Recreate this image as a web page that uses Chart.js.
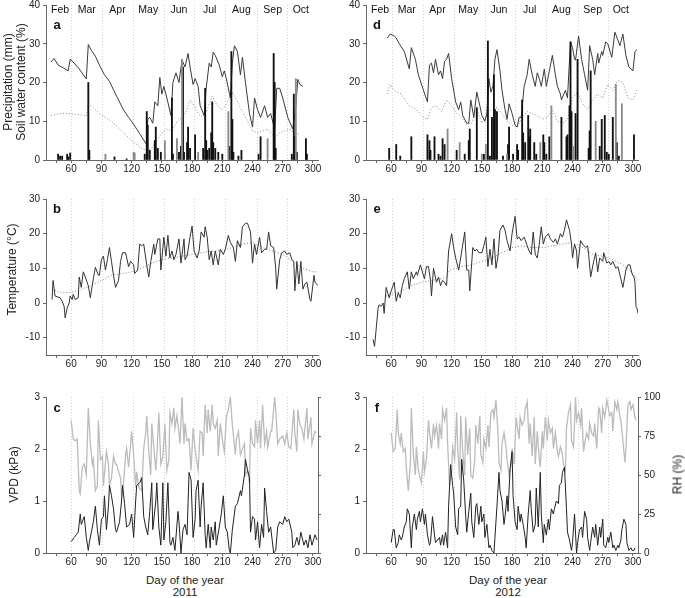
<!DOCTYPE html>
<html>
<head>
<meta charset="utf-8">
<script src="https://cdn.jsdelivr.net/npm/chart.js@4.4.0/dist/chart.umd.min.js"></script>
<style>
body { margin: 0; background: #fff; }
#page { position: relative; width: 685px; height: 598px; overflow: hidden; font-family: 'Liberation Sans', Arial, sans-serif; color: #222; }
canvas { position: absolute; }
.vt { position: absolute; width: 240px; text-align: center; transform: rotate(-90deg); font-size: 12px; line-height: 13px; }
.ht { position: absolute; width: 160px; text-align: center; font-size: 11.5px; line-height: 12px; }
</style>
</head>
<body>
<div id="page">
  <canvas id="pa" width="340" height="178" style="left:0;top:0"></canvas>
  <canvas id="pd" width="345" height="178" style="left:340px;top:0"></canvas>
  <canvas id="pb" width="340" height="195" style="left:0;top:180px"></canvas>
  <canvas id="pe" width="345" height="195" style="left:340px;top:180px"></canvas>
  <canvas id="pc" width="340" height="190" style="left:0;top:380px"></canvas>
  <canvas id="pf" width="345" height="190" style="left:340px;top:380px"></canvas>

  <div class="vt" style="left:-105px;top:69px;height:26px">Precipitation (mm)<br>Soil water content (%)</div>
  <div class="vt" style="left:-108px;top:263px">Temperature (°C)</div>
  <div class="vt" style="left:-106px;top:468px">VPD (kPa)</div>
  <div class="vt" style="left:558px;top:468px">RH (%)</div>
  <div class="ht" style="left:105px;top:574px">Day of the year<br>2011</div>
  <div class="ht" style="left:428px;top:574px">Day of the year<br>2012</div>
</div>
<script>
// x axis: day of the year
const xTickDays = [45, 60, 75, 90, 105, 120, 135, 150, 165, 180, 195, 210, 225, 240, 255, 270, 285, 300];
const monthStarts2011 = [60, 91, 121, 152, 182, 213, 244, 274];
const monthStarts2012 = [61, 92, 122, 153, 183, 214, 245, 275];
const monthNames = ['Feb', 'Mar', 'Apr', 'May', 'Jun', 'Jul', 'Aug', 'Sep', 'Oct'];
const monthLabelDays = [49, 75.5, 106, 136.5, 167, 197.5, 229, 260, 288];

// soil water content (%), [day, value]
const swc2011 = [[40,25.3],[43,26.2],[47,24.5],[52,23.8],[57,23],[59,26],[63,25],[68,23.5],[72,22],[75,20.9],[77,29.8],[80,28.3],[84,26.8],[88,24.5],[93,22],[98,20.3],[105,16.5],[112,12.9],[117,11],[122,9.2],[128,6.8],[135,3.9],[136,10.5],[138,11],[141,9.5],[143,15],[146,14],[148,21.3],[150,17],[152,19],[155,16],[159,11.5],[161,20],[164,22.5],[167,20],[170,25.8],[173,24],[176,27.5],[178,24],[181,19.5],[183,21],[186,19],[188,14],[192,11.5],[194,18.5],[197,25],[199,24],[201,27.8],[203,27],[207,24.5],[210,21.5],[212,23],[214,21],[218,16],[220,25],[222,29.5],[225,28],[228,22],[230,26.5],[233,20],[237,12],[240,8.5],[242,16],[245,13],[248,11],[252,14],[255,11],[258,12],[262,8],[264,18.5],[267,18.5],[270,16],[275,11],[280,8],[283,14],[285,20.8],[287,19.5],[290,19]];
const swcB2011 = [[40,11.5],[45,11.8],[50,12],[55,12],[60,11.9],[65,11.8],[70,11.6],[75,11.3],[77,14.5],[82,13.5],[88,12],[95,10.8],[100,10],[106,8.5],[112,7],[118,5.5],[125,4],[130,3],[135,2.5],[140,3],[145,5],[150,7],[155,8],[160,7.5],[165,10],[170,11],[175,13],[178,15.5],[182,14],[186,12],[190,11],[195,13],[200,16.5],[205,14],[210,13],[215,15],[220,17.5],[225,15],[230,12.5],[235,10],[240,7.5],[245,7],[250,7.5],[255,8],[260,6.5],[263,6],[267,7],[272,7.5],[277,8],[282,7],[287,6.5]];
const swc2012 = [[56,31.5],[59,32.5],[63,32],[65,31.5],[68,30],[73,28],[78,23.5],[80,29],[84,26],[87,22],[92,18],[96,15],[98,24.5],[100,25],[102,22.5],[104,26],[107,22],[109,23],[111,21],[113,25.5],[115,26],[117,27.5],[120,21],[124,15],[127,13],[129,15],[131,11.5],[135,9.5],[137,9.5],[139,15.5],[142,11],[145,17.5],[148,14],[150,11.5],[153,10],[155,12],[157,21],[159,17.5],[161,19],[163,26],[165,28.5],[168,23],[170,18],[173,13],[175,10.5],[177,14.5],[180,12],[183,9],[185,8.5],[187,11],[189,11],[192,19],[195,22],[197,26],[200,22],[203,19],[205,22.5],[207,21],[209,19],[212,23.5],[214,19],[217,23],[220,27],[223,22],[225,19],[228,17],[229,15.5],[233,18],[235,16],[238,30.5],[240,29],[242,26],[243,25.8],[246,32],[249,26],[252,22],[255,18],[257,29.5],[260,26],[262,22],[265,27.5],[266,25],[269,28],[270,27],[273,30.5],[275,30],[279,26.5],[282,33],[285,31],[287,29.5],[290,32.5],[293,27],[296,24],[300,23],[302,28],[304,28.5]];
const swcB2012 = [[56,17],[59,19.5],[63,18],[70,17],[78,14],[85,13],[92,11],[96,10.5],[100,13.5],[105,14],[110,12.5],[115,15.5],[120,14],[125,12],[130,11],[135,9],[140,9.5],[145,13],[150,9.5],[155,12],[160,13],[165,13.5],[170,12],[175,10],[180,9],[185,8.5],[190,11],[195,12.5],[200,12],[205,11.5],[210,10.5],[215,11],[220,13],[225,10],[230,9.5],[235,10.5],[240,16],[245,17.5],[250,14.5],[255,13],[260,15.5],[265,17],[270,16],[275,19.5],[280,18],[285,20.5],[290,20],[295,16],[300,15.5],[304,18]];

// precipitation (mm), [day, value]
const rain2011 = [[47,1.5],[49,1],[51,1],[56,1.5],[57,0.8],[59,1.8],[77,20],[78,2.5],[103,0.8],[115,0.3],[133,1.5],[135,12.5],[136,9],[138,2.5],[143,5],[144,8.5],[146,3],[149,2],[160,16],[161,1.5],[167,2],[169,3.5],[171,24],[172,2],[175,4.5],[176,8.5],[178,3],[183,6.5],[191,3],[193,18.5],[194,5],[195,2.5],[197,3],[199,7],[200,15],[201,4.5],[203,3],[206,2],[210,1.5],[217,3.5],[219,28],[220,10.5],[221,2],[226,1],[229,2.5],[246,1.5],[248,6],[261,27.5],[262,20],[263,3],[279,1.5],[281,17],[282,6],[284,2],[293,5.5],[294,1.5]];
const rainB2011 = [[94,1.5],[122,2],[123,1.8],[153,5],[165,5.5],[170,26],[186,2],[216,12.5],[255,5.5],[283,21]];
const rain2012 = [[58,3],[65,4],[69,1],[80,6],[96,6.5],[98,5],[99,2.5],[103,6],[107,1.5],[109,1],[111,5.5],[113,4],[125,2.5],[133,1.5],[137,5],[138,8],[145,13.5],[152,1.5],[156,30.7],[158,1],[160,11],[162,22],[163,13],[165,12.5],[171,1],[176,4],[177,8.5],[181,1.5],[185,4],[186,2.5],[190,15.5],[191,7],[193,4.5],[196,11.5],[197,6],[198,8],[202,4.5],[204,1.5],[211,6.5],[212,4.5],[214,1.5],[217,6],[229,11],[234,6],[235,6.5],[237,14],[238,30.5],[239,12.5],[243,12],[245,26],[256,3],[257,7.5],[258,23],[267,3.5],[269,10.5],[272,11.5],[274,2],[276,1.5],[280,11],[284,4.5],[286,1],[301,6.5]];
const rainB2012 = [[116,8],[128,4.5],[150,1.5],[154,4],[175,1.5],[208,4.5],[219,14],[241,3.5],[263,10],[283,19.5],[289,14.5]];

// air temperature (°C), [day, value]
const temp2011 = [[41,1],[42,6.5],[44,2],[46,1.8],[49,1.5],[51,0.5],[53,-1],[54,-4.3],[56,-1.5],[58,0],[59,2],[61,1],[62,2.5],[64,1],[67,1.5],[68,7.5],[70,4.5],[72,9],[74,7.5],[77,5],[79,1.5],[82,7],[84,10.3],[87,8],[88,8],[90,12.5],[92,13.5],[94,9.5],[96,12.5],[98,16],[100,12],[102,8],[104,4.5],[107,6.5],[109,12],[111,14.5],[114,14.5],[117,10.5],[119,12],[122,11],[123,8.5],[126,9.5],[128,17],[130,16.5],[132,17],[135,11],[137,7.5],[139,12],[142,17],[143,14],[146,18.5],[148,18.5],[149,9.5],[152,19],[154,13.5],[156,19.5],[158,13],[160,15],[162,12.5],[164,14],[167,18.5],[169,11.5],[172,18.5],[173,12.5],[175,13.5],[178,19],[180,22.2],[182,15],[185,13],[187,15],[189,20.5],[192,19],[193,22],[195,19],[197,12.5],[199,15],[201,11],[203,15],[206,11],[208,15.5],[211,14],[213,15.5],[216,19.5],[218,17.5],[221,16],[223,12],[225,18],[228,16],[230,22],[233,23],[235,23],[238,20.5],[240,11.5],[242,17],[244,14],[247,19],[249,14.5],[252,15.5],[254,15.5],[256,20.5],[258,16.5],[261,16],[263,10],[264,4],[267,12.5],[269,14.5],[272,15],[274,14],[277,14.5],[279,12.5],[281,12],[282,3.5],[284,12],[286,5.5],[288,12],[290,4],[292,5.5],[294,6],[297,1],[298,0.5],[301,8],[302,6],[305,5]];
const tempB2011 = [[41,4],[50,3],[60,3],[70,4],[80,5],[90,6.5],[100,8],[110,8.5],[120,9],[130,10],[140,11.5],[150,12.5],[160,13],[170,13.5],[180,14],[190,14.5],[200,15],[210,15],[220,16],[230,17],[240,17.5],[250,16],[260,15],[270,14],[280,12],[290,10],[300,9],[305,9]];
const temp2012 = [[42,-10.5],[43.5,-12.5],[47,-1.5],[48,-0.5],[50,-1],[52,0],[53,-3],[55,4.5],[58,1.5],[60,3.5],[63,6],[65,0.5],[67,3],[69,1.5],[71,5],[73,7],[76,9],[78,4],[80,9],[82,7],[85,9],[86,8],[89,11],[91,9],[93,7],[95,10.5],[97,10.5],[99,6.5],[100,2],[102,10],[105,6],[107,7.5],[109,5],[111,6.5],[113,6],[115,5],[117,15],[120,20],[122,16],[124,13],[127,9.5],[129,13],[133,20.5],[135,9.5],[137,9.5],[138,3.5],[141,16],[143,15],[145,15.5],[147,14.5],[150,14.5],[152,16.5],[154,19],[156,10.5],[158,15.5],[160,11],[162,18.5],[164,10],[166,13.5],[168,21],[171,22.5],[173,21],[175,18],[178,15],[180,20],[183,25],[185,18.5],[187,19],[189,18],[192,19],[195,16.5],[197,15],[199,14],[201,20.5],[203,14],[205,13],[207,17],[209,22],[211,17],[213,19],[216,20],[218,18.5],[221,17.5],[223,18.5],[225,17],[228,20],[230,19],[232,21],[234,24],[237,21],[239,17],[240,13],[242,17],[244,15],[245,10],[248,18],[250,17],[253,16],[255,16.5],[256,14],[258,7.5],[261,12],[263,14.5],[265,9],[267,13],[270,12],[271,14.5],[274,11.5],[276,12],[278,11],[280,12],[283,10],[285,10.5],[288,7],[290,4.5],[293,9.5],[295,11],[297,11],[299,8.5],[301,7.5],[302,6],[303,-1],[304,-1.5],[305,-3]];
const tempB2012 = [[55,2],[60,2.5],[70,3.5],[80,5],[90,6],[100,6.5],[110,7],[115,7.5],[118,9.5],[125,10],[130,10.5],[140,11],[150,12],[160,13],[170,14.5],[180,16],[190,16.5],[200,16],[210,16],[220,16.5],[230,17],[240,17.5],[250,16],[260,14],[270,13.5],[280,12.5],[290,11],[300,8.5],[305,6.5]];

// vapour pressure deficit (kPa), [day, value]
const vpd2011 = [[60,0.22],[63,0.3],[65,0.35],[67,0.4],[69,0.75],[70,0.55],[73,0.7],[75,0.3],[77,0.05],[78,0.2],[80,0.4],[82,0.6],[84,0.9],[86,0.45],[88,0.15],[90,0.65],[92,0.7],[93,1.1],[95,0.45],[97,0.9],[98,1.3],[100,1.1],[102,0.85],[104,0.45],[105,0.4],[108,0.6],[110,1.0],[111,1.3],[113,0.95],[115,0.5],[118,0.55],[120,0.75],[122,0.3],[124,1.0],[125,1.3],[128,1.35],[130,1.45],[132,0.7],[134,0.5],[136,0.35],[138,0.8],[140,1.35],[141,0.45],[144,1.0],[145,1.35],[147,0.5],[149,0.15],[151,1.35],[152,0.25],[154,0.6],[156,1.35],[158,0.2],[159,0.15],[161,0.3],[163,0.05],[166,0.8],[167,0.6],[169,0],[171,0.45],[173,0.55],[175,0.35],[177,1.55],[179,1.4],[181,0.3],[183,0.65],[184,1.2],[186,1.4],[188,0.5],[189,0.9],[191,1.35],[193,0.35],[194,0.1],[196,0.55],[198,0.1],[199,0.5],[201,0.25],[203,0.6],[204,0.15],[207,0.5],[209,0.75],[211,1.1],[213,0.5],[215,0.4],[217,0.05],[218,0],[220,0.45],[223,0.9],[225,0.95],[228,1.2],[229,1.1],[232,1.5],[233,1.8],[235,1.6],[237,1.45],[238,0.4],[240,0.7],[242,0.65],[243,0.25],[245,0.6],[247,0.1],[249,0.55],[251,0.3],[252,1.25],[254,0.8],[256,0.4],[258,0.5],[261,0],[263,0.05],[265,0.5],[267,0.6],[270,0.55],[272,0.7],[274,0.6],[276,0.65],[279,0.4],[280,0.1],[282,0.15],[284,0.3],[286,0.15],[288,0.4],[291,0.15],[293,0.25],[295,0.1],[297,0.35],[299,0.15],[302,0.35],[304,0.25]];
const vpd2012 = [[60,0.2],[62,0.45],[63,0.45],[65,0.1],[67,0.2],[68,0.35],[70,0.25],[71,0.3],[73,0.5],[75,0.6],[76,0.85],[78,0.75],[80,0.1],[81,0.5],[83,0.75],[85,0.45],[86,0.65],[88,0.8],[89,0.6],[91,0.85],[93,0.55],[94,0.75],[96,0.35],[98,0.15],[99,0.2],[101,0.7],[103,0.35],[104,0.2],[106,0.25],[108,0.3],[109,0.15],[111,0.35],[112,0.15],[114,0.4],[116,0.1],[117,0.9],[119,1.7],[121,1.3],[122,1.15],[124,0.5],[126,0.35],[127,0.85],[129,0.9],[130,1.8],[132,1.4],[134,0.7],[135,0.4],[137,0.8],[139,1.15],[140,0.6],[142,0.3],[144,0.9],[145,0.95],[147,0.55],[149,0.9],[150,0.6],[152,0.75],[153,0.3],[155,0.55],[157,0.1],[158,0.15],[160,0.05],[162,0],[163,0.3],[165,0.9],[167,1.55],[168,1.2],[170,1.0],[172,0.55],[173,0.7],[175,1.1],[176,0.8],[178,1.6],[180,1.95],[181,1.1],[183,0.6],[185,0.45],[186,0.9],[188,0.6],[189,0.75],[191,0.55],[193,0.3],[194,0.1],[196,0.75],[198,1.2],[199,0.85],[201,0.4],[203,0.55],[204,1.25],[206,0.5],[208,1.55],[209,0.75],[211,0.2],[212,0.55],[214,0.35],[216,0.65],[217,0.45],[219,0.85],[221,0.75],[222,0.85],[224,1.0],[226,0.95],[227,1.3],[229,1.35],[230,1.55],[232,1.65],[234,0.85],[235,0.4],[237,0.25],[239,0.05],[240,0.2],[242,0.75],[244,0],[245,0.2],[247,0.45],[249,0.5],[250,0.3],[252,0.8],[254,0.65],[255,0.3],[257,0.05],[258,0.2],[260,0.5],[262,0.3],[263,0.55],[265,0.15],[267,0.5],[268,0.3],[270,0.65],[271,0.15],[273,0.1],[275,0.3],[276,0.2],[278,0.4],[280,0.1],[281,0.15],[283,0.05],[285,0.15],[286,0.1],[288,0.25],[289,0.45],[291,0.65],[293,0.55],[294,0.2],[296,0.05],[298,0.1],[299,0.05],[301,0.05],[302,0.1]];

// relative humidity (%), [day, value]
const rh2011 = [[60,85],[62,73],[64,72],[66,73],[68,40],[69,38],[71,55],[73,57],[75,50],[77,93],[79,70],[81,57],[82,60],[84,40],[86,43],[87,85],[89,60],[91,62],[92,43],[95,65],[97,57],[98,43],[100,48],[102,62],[104,57],[105,57],[107,52],[109,48],[110,37],[112,45],[114,63],[115,67],[117,55],[119,70],[120,78],[122,63],[124,42],[125,52],[127,42],[130,40],[132,67],[134,77],[135,88],[137,65],[139,50],[140,83],[142,68],[144,53],[145,62],[147,90],[149,57],[151,62],[153,83],[155,53],[157,60],[158,90],[160,83],[162,93],[163,80],[165,88],[167,77],[168,70],[170,100],[172,70],[173,83],[175,72],[177,73],[179,53],[181,80],[183,67],[185,57],[186,53],[188,78],[190,77],[191,62],[193,95],[195,77],[196,92],[198,78],[200,95],[201,83],[203,80],[205,85],[206,62],[208,83],[210,73],[212,65],[214,87],[216,92],[218,100],[220,82],[223,63],[224,73],[226,78],[228,63],[229,65],[232,70],[233,50],[235,53],[237,45],[238,80],[240,70],[242,68],[243,85],[245,70],[247,85],[248,67],[250,95],[252,70],[254,78],[255,68],[258,78],[259,78],[262,100],[263,92],[265,70],[267,73],[270,75],[272,70],[274,77],[276,68],[278,67],[281,92],[282,77],[284,65],[285,92],[287,82],[289,80],[291,73],[294,93],[295,73],[298,87],[299,70],[302,78],[303,77]];
const rh2012 = [[60,77],[62,65],[64,67],[66,92],[67,77],[69,70],[70,77],[72,65],[74,67],[75,55],[77,40],[79,57],[80,93],[82,63],[84,50],[85,68],[87,53],[88,50],[90,45],[92,65],[93,52],[95,60],[97,85],[98,78],[100,67],[102,83],[103,75],[105,82],[107,67],[108,83],[110,73],[111,92],[113,85],[115,93],[116,70],[118,43],[120,52],[121,68],[123,60],[125,90],[126,67],[128,47],[129,88],[131,65],[133,50],[134,87],[136,63],[138,80],[139,50],[141,48],[143,60],[144,82],[146,70],[148,88],[149,63],[151,58],[152,73],[154,67],[156,82],[157,68],[159,90],[161,92],[162,87],[164,98],[166,77],[167,58],[169,53],[170,70],[172,77],[174,68],[175,60],[177,50],[179,57],[180,67],[182,57],[184,87],[185,82],[187,73],[188,87],[190,82],[192,85],[193,92],[195,97],[197,70],[198,83],[200,62],[202,87],[203,57],[205,78],[207,60],[208,55],[210,78],[211,67],[213,87],[215,72],[216,85],[218,77],[220,80],[221,67],[223,77],[225,65],[226,62],[228,68],[230,63],[231,57],[233,53],[234,80],[236,90],[238,95],[239,72],[241,68],[243,100],[244,85],[246,90],[248,82],[249,93],[251,65],[252,70],[254,77],[256,73],[257,83],[259,77],[261,75],[262,83],[264,67],[266,93],[267,92],[269,77],[270,93],[272,87],[274,98],[275,95],[277,88],[279,90],[280,78],[282,97],[284,92],[285,97],[287,88],[288,85],[290,72],[292,58],[293,67],[295,95],[297,97],[298,92],[300,95],[302,87],[303,85]];

const FONT = "'Liberation Sans', Arial, sans-serif";
const tickFont = { family: FONT, size: 10 };
const axisColor = '#666';

const pts = arr => arr.map(p => ({ x: p[0], y: p[1] }));

// dotted month lines, month names, panel letter
const panelDecor = {
    id: 'panelDecor',
    beforeDatasetsDraw(chart, args, opts) {
        const { ctx, chartArea: ca, scales: { x } } = chart;
        ctx.save();
        ctx.strokeStyle = '#d2d2d2';
        ctx.lineWidth = 1;
        ctx.setLineDash([1, 2]);
        opts.grid.forEach(d => {
            const px = Math.round(x.getPixelForValue(d)) + 0.5;
            ctx.beginPath();
            ctx.moveTo(px, ca.top);
            ctx.lineTo(px, ca.bottom);
            ctx.stroke();
        });
        ctx.setLineDash([]);
        ctx.fillStyle = '#111';
        ctx.textAlign = 'center';
        ctx.textBaseline = 'middle';
        if (opts.months) {
            ctx.font = '10.5px ' + FONT;
            monthNames.forEach((m, i) => ctx.fillText(m, x.getPixelForValue(monthLabelDays[i]), ca.top + 5));
        }
        ctx.font = 'bold 13px ' + FONT;
        ctx.fillText(opts.letter, ca.left + 11, ca.top + opts.letterDy);
        ctx.restore();
    }
};

function xAxis(h) {
    return {
        type: 'linear', min: 35, max: 305, offset: false,
        afterBuildTicks: s => { s.ticks = xTickDays.map(v => ({ value: v })); },
        afterFit: s => { s.height = h; s.paddingLeft = 0; s.paddingRight = 0; },
        ticks: { autoSkip: false, maxRotation: 0, padding: 0, color: '#222', font: tickFont,
                 callback: v => (v % 30 === 0 ? v : '') },
        grid: { drawOnChartArea: false, tickLength: 3, color: axisColor, offset: false },
        border: { color: axisColor }
    };
}

function yAxis(pos, min, max, tickVals, w, showLabels) {
    return {
        type: 'linear', position: pos, min: min, max: max,
        afterBuildTicks: s => { s.ticks = tickVals.map(v => ({ value: v })); },
        afterFit: s => { s.width = w; s.paddingTop = 0; s.paddingBottom = 0; },
        ticks: { padding: 3, color: '#222', font: tickFont, callback: v => (showLabels ? v : '') },
        grid: { drawOnChartArea: false, tickLength: 3, color: axisColor },
        border: { color: axisColor }
    };
}

function lineSet(data, color, width, dash, axis) {
    return { type: 'line', data: pts(data), borderColor: color, borderWidth: width, borderDash: dash || [],
             pointRadius: 0, tension: 0, yAxisID: axis || 'y', order: 1 };
}

function barSet(data, color) {
    return { type: 'bar', data: pts(data), backgroundColor: color, barThickness: 1.2, grouped: false, order: 0 };
}

function makeChart(id, type, datasets, scales, padding, decor) {
    return new Chart(document.getElementById(id).getContext('2d'), {
        type: type,
        data: { datasets: datasets },
        options: {
            responsive: false, animation: false, devicePixelRatio: 1,
            layout: { padding: padding },
            plugins: { legend: { display: false }, tooltip: { enabled: false }, panelDecor: decor },
            scales: scales
        },
        plugins: [panelDecor]
    });
}

window.onload = function() {
    const y40 = [0, 10, 20, 30, 40];
    const yT = [-10, 0, 10, 20, 30];
    const yV = [0, 1, 2, 3];
    const yRH = [0, 25, 50, 75, 100];

    // a, d: precipitation and soil water content
    makeChart('pa', 'bar',
        [barSet(rainB2011, '#8a8a8a'), barSet(rain2011, '#111'),
         lineSet(swc2011, '#3a3a3a', 1), lineSet(swcB2011, '#8a8a8a', 1, [1, 2])],
        { x: xAxis(18), y: yAxis('left', 0, 40, y40, 46, true) },
        { top: 5, right: 22, left: 0, bottom: 0 },
        { grid: monthStarts2011, months: true, letter: 'a', letterDy: 20 });
    makeChart('pd', 'bar',
        [barSet(rainB2012, '#8a8a8a'), barSet(rain2012, '#111'),
         lineSet(swc2012, '#3a3a3a', 1), lineSet(swcB2012, '#8a8a8a', 1, [1, 2])],
        { x: xAxis(18), y: yAxis('left', 0, 40, y40, 26, true) },
        { top: 5, right: 47, left: 0, bottom: 0 },
        { grid: monthStarts2012, months: true, letter: 'd', letterDy: 20 });

    // b, e: temperature
    makeChart('pb', 'line',
        [lineSet(temp2011, '#333', 1), lineSet(tempB2011, '#808080', 1, [1, 2])],
        { x: xAxis(20), y: yAxis('left', -15, 30, yT, 46, true) },
        { top: 19, right: 22, left: 0, bottom: 0 },
        { grid: monthStarts2011, months: false, letter: 'b', letterDy: 10 });
    makeChart('pe', 'line',
        [lineSet(temp2012, '#333', 1), lineSet(tempB2012, '#808080', 1, [1, 2])],
        { x: xAxis(20), y: yAxis('left', -15, 30, yT, 26, true) },
        { top: 19, right: 47, left: 0, bottom: 0 },
        { grid: monthStarts2012, months: false, letter: 'e', letterDy: 10 });

    // c, f: VPD and RH
    makeChart('pc', 'line',
        [lineSet(vpd2011, '#222', 1), lineSet(rh2011, '#bcbcbc', 1.3, [], 'y2')],
        { x: xAxis(17), y: yAxis('left', 0, 3, yV, 46, true), y2: yAxis('right', 0, 100, yRH, 6, false) },
        { top: 17, right: 16, left: 0, bottom: 0 },
        { grid: monthStarts2011, months: false, letter: 'c', letterDy: 11 });
    makeChart('pf', 'line',
        [lineSet(vpd2012, '#222', 1), lineSet(rh2012, '#bcbcbc', 1.3, [], 'y2')],
        { x: xAxis(17), y: yAxis('left', 0, 3, yV, 26, true), y2: yAxis('right', 0, 100, yRH, 30, true) },
        { top: 17, right: 17, left: 0, bottom: 0 },
        { grid: monthStarts2012, months: false, letter: 'f', letterDy: 11 });
};
</script>
</body>
</html>
